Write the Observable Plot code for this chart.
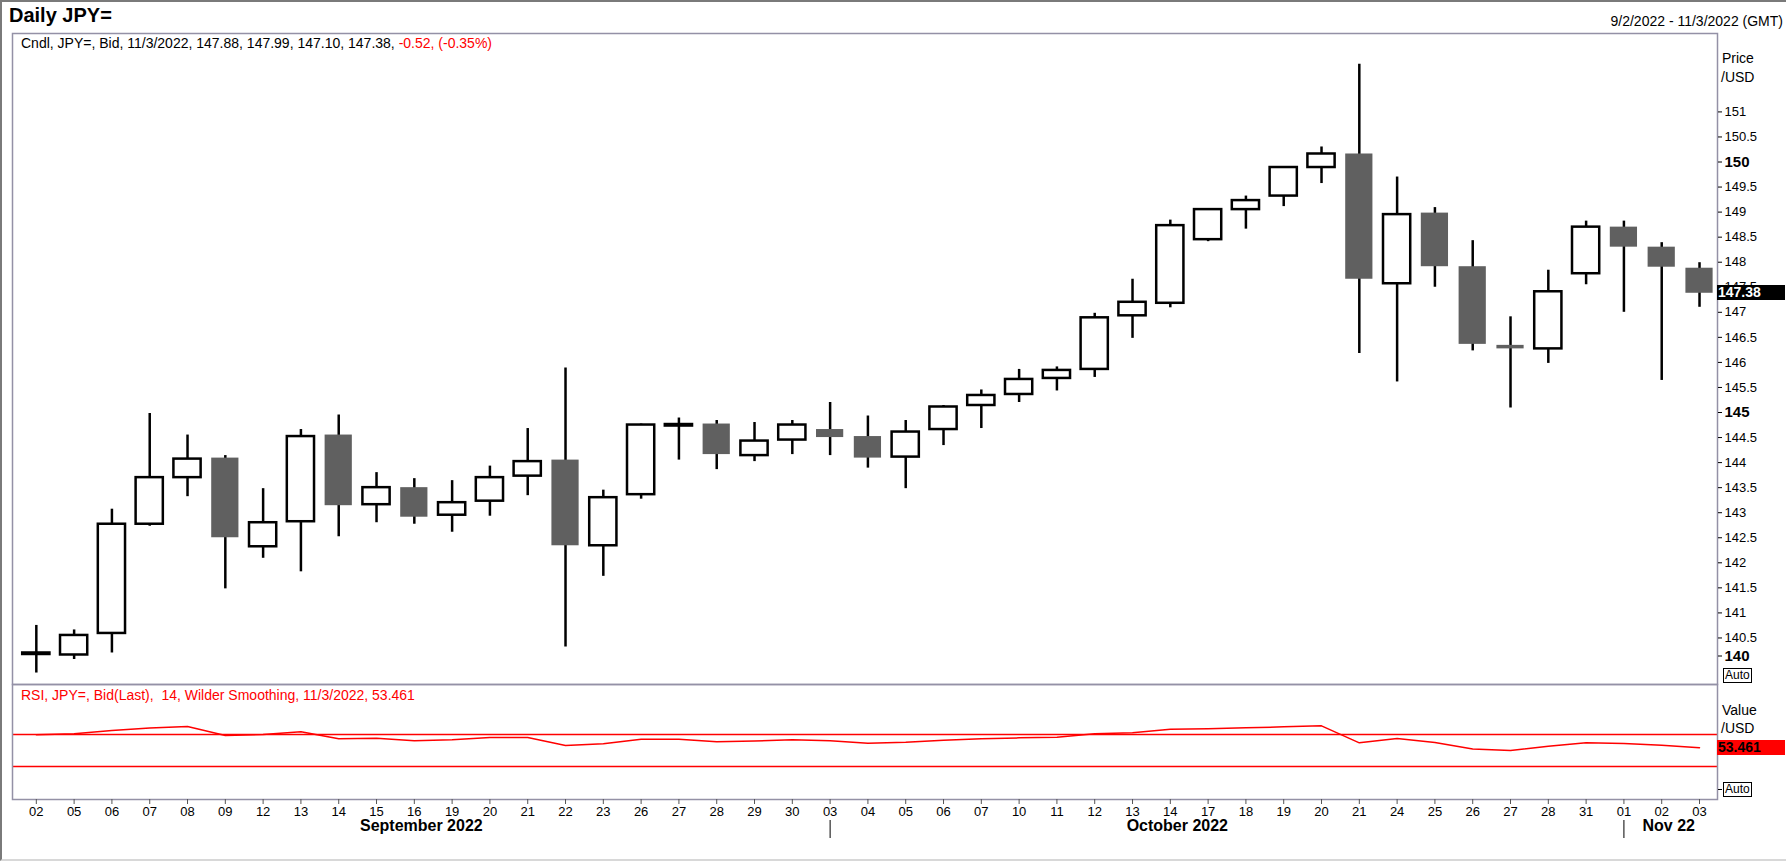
<!DOCTYPE html>
<html>
<head>
<meta charset="utf-8">
<script src="https://cdn.jsdelivr.net/npm/d3@7"></script>
<script src="https://cdn.jsdelivr.net/npm/@observablehq/plot@0.6"></script>
<style>
  html, body { margin: 0; padding: 0; background: #fff; }
  body { width: 1788px; height: 862px; position: relative; overflow: hidden;
         font-family: "Liberation Sans", Arial, sans-serif; color: #000; }
  .abs { position: absolute; white-space: nowrap; }
  #border { position: absolute; left: 0; top: 0; width: 1786px; height: 861px;
            border-top: 2px solid #7a7a7a; border-left: 2px solid #7a7a7a;
            border-bottom: 2px solid #d8d8d8; box-sizing: border-box; pointer-events: none; }
  svg { position: absolute; left: 0; }
  .auto { position: absolute; font-size: 12px; line-height: 13px; border: 1px solid #000;
          padding: 0 1px; background: #fff; }
</style>
</head>
<body>
<div id="border"></div>
<div id="root"></div>
<script>
// ---------------- data ----------------
const dates = ["2022-09-02","2022-09-05","2022-09-06","2022-09-07","2022-09-08","2022-09-09","2022-09-12","2022-09-13","2022-09-14","2022-09-15","2022-09-16","2022-09-19","2022-09-20","2022-09-21","2022-09-22","2022-09-23","2022-09-26","2022-09-27","2022-09-28","2022-09-29","2022-09-30","2022-10-03","2022-10-04","2022-10-05","2022-10-06","2022-10-07","2022-10-10","2022-10-11","2022-10-12","2022-10-13","2022-10-14","2022-10-17","2022-10-18","2022-10-19","2022-10-20","2022-10-21","2022-10-24","2022-10-25","2022-10-26","2022-10-27","2022-10-28","2022-10-31","2022-11-01","2022-11-02","2022-11-03"];
const open  = [140.17,140.16,140.59,142.77,143.70,144.09,142.32,142.82,144.55,143.16,143.50,142.95,143.23,143.73,144.05,142.34,143.36,144.73,144.77,144.14,144.45,144.66,144.52,144.11,144.66,145.14,145.36,145.68,145.86,146.93,147.18,148.45,149.05,149.32,149.89,150.16,147.57,148.98,147.91,146.34,146.27,147.77,148.70,148.30,147.88];
const high  = [140.75,140.66,143.07,144.98,144.55,144.14,143.48,144.66,144.95,143.80,143.68,143.64,143.93,144.68,145.89,143.45,144.77,144.89,144.84,144.80,144.84,145.20,144.93,144.84,145.14,145.45,145.86,145.91,146.98,147.66,148.84,149.07,149.32,149.91,150.30,151.95,149.70,149.09,148.43,146.91,147.84,148.82,148.82,148.39,147.99];
const low   = [139.80,140.07,140.20,142.73,143.32,141.48,142.09,141.82,142.52,142.80,142.77,142.61,142.93,143.34,140.32,141.73,143.27,144.05,143.86,144.02,144.16,144.14,143.89,143.48,144.34,144.68,145.20,145.43,145.70,146.48,147.09,148.41,148.66,149.11,149.57,146.18,145.61,147.50,146.23,145.09,145.98,147.55,147.00,145.64,147.10];
const close = [140.20,140.55,142.77,143.70,144.07,142.50,142.80,144.52,143.14,143.50,142.91,143.20,143.70,144.02,142.34,143.30,144.75,144.76,144.16,144.43,144.75,144.50,144.09,144.61,145.11,145.34,145.66,145.84,146.89,147.20,148.73,149.05,149.23,149.89,150.16,147.66,148.95,147.91,146.36,146.27,147.41,148.70,148.30,147.90,147.38];
const rsi   = [69.8,70.8,75.0,78.0,80.0,68.8,70.0,73.3,64.6,65.2,62.1,63.3,66.2,66.2,56.3,58.3,64.2,64.2,60.8,61.9,63.3,62.1,59.2,60.4,62.9,64.6,65.8,66.7,70.8,72.1,76.7,77.1,78.3,79.6,80.8,59.6,65.0,60.0,52.0,50.0,55.2,59.6,58.8,56.7,53.461];
const rsiLevels = [70, 30];
const priceTicksMinor = [140.5,141,141.5,142,142.5,143,143.5,144,144.5,145.5,146,146.5,147,147.5,148,148.5,149,149.5,150.5,151];
const priceTicksMajor = [145, 150];
const priceTicksBottom = [140];
const monthLabels = ["September 2022", "October 2022", "Nov 22"];
const monthLabelAt = ["2022-09-16", "2022-10-14", "2022-11-02"];
const monthStarts = ["2022-10-03", "2022-11-01"];
const titleText = "Daily JPY=";
const rangeText = "9/2/2022 - 11/3/2022 (GMT)";
const headerBlack = "Cndl, JPY=, Bid, 11/3/2022, 147.88, 147.99, 147.10, 147.38, ";
const headerRed = "-0.52, (-0.35%)";
const rsiHeader = "RSI, JPY=, Bid(Last),&nbsp; 14, Wilder Smoothing, 11/3/2022, 53.461";

// ---------------- derived tables ----------------
const candles = dates.map((d, i) => ({date: d, open: open[i], high: high[i], low: low[i], close: close[i]}));
const up = candles.filter(d => d.close >= d.open);
const down = candles.filter(d => d.close < d.open);
const rsiData = dates.map((d, i) => ({date: d, value: rsi[i]}));
const months = monthLabels.map((m, i) => ({label: m, at: monthLabelAt[i]}));
const last = candles[candles.length - 1];
const lastRsi = rsiData[rsiData.length - 1];

const FONT = '"Liberation Sans", Arial, sans-serif';
const W = 1788;
const xScale = {type: "band", domain: dates, paddingInner: 0.28, paddingOuter: 0.193, align: 0.7};
const frameColor = "#9491a6";
const RED = "#ff0000";

const root = document.getElementById("root");

// ---------------- price panel ----------------
const price = Plot.plot({
  width: W, height: 684,
  marginTop: 33, marginBottom: 0, marginLeft: 12, marginRight: 71,
  style: {fontFamily: FONT, fontSize: "13px", color: "#000", background: "transparent", overflow: "visible"},
  x: {...xScale, axis: null},
  y: {domain: [139.571, 152.565], axis: null},
  marks: [
    Plot.ruleX(candles, {x: "date", y1: "low", y2: "high", stroke: "#000", strokeWidth: 2.5}),
    Plot.barY(down, {x: "date", y1: "open", y2: "close", fill: "#606060"}),
    Plot.barY(up, {x: "date", y1: "open", y2: "close", fill: "#fff", stroke: "#000", strokeWidth: 2.5}),
    Plot.frame({stroke: frameColor, strokeWidth: 1.5}),
    Plot.axisY({anchor: "right", ticks: priceTicksMinor, tickSize: 4, tickPadding: 3, label: null,
                tickFormat: d => String(d), fontSize: 13, fill: "#000"}),
    Plot.axisY({anchor: "right", ticks: priceTicksMajor, tickSize: 4, tickPadding: 3, label: null,
                tickFormat: d => String(d), fontSize: 15, fontWeight: "bold"}),
    Plot.axisY({anchor: "right", ticks: priceTicksBottom, tickSize: 4, tickPadding: 3, label: null,
                tickFormat: d => String(d), fontSize: 15, fontWeight: "bold", dy: -7})
  ]
});
price.style.top = "0px";
root.appendChild(price);

// ---------------- RSI panel ----------------
const rsiPlot = Plot.plot({
  width: W, height: 178,
  marginTop: 0, marginBottom: 63, marginLeft: 12, marginRight: 71,
  style: {fontFamily: FONT, fontSize: "13px", color: "#000", background: "transparent", overflow: "visible"},
  x: {...xScale, axis: null},
  y: {domain: [-11.25, 132.5], axis: null},
  marks: [
    Plot.ruleY(rsiLevels, {stroke: RED, strokeWidth: 1.5}),
    Plot.line(rsiData, {x: "date", y: "value", stroke: RED, strokeWidth: 1.5}),
    Plot.frame({stroke: frameColor, strokeWidth: 1.5}),
    Plot.axisX({anchor: "bottom", tickSize: 5, tickPadding: 2, label: null,
                tickFormat: d => d.slice(8, 10), fontSize: 13, stroke: "#555"}),
    Plot.text(months, {x: "at", text: "label", frameAnchor: "bottom", dy: 31, dx: 7,
                       fontSize: 16, fontWeight: "bold", fill: "#000"}),
    Plot.ruleX(monthStarts, {x: d => d, insetTop: 136, insetBottom: -39, stroke: "#000", strokeWidth: 1})
  ]
});
rsiPlot.style.top = "684px";
root.appendChild(rsiPlot);

// ---------------- html text / labels ----------------
function addDiv(html, css) {
  const el = document.createElement("div");
  el.className = "abs";
  el.innerHTML = html;
  Object.assign(el.style, css);
  document.body.appendChild(el);
  return el;
}
addDiv(titleText, {left: "9px", top: "4px", fontSize: "20px", fontWeight: "bold", lineHeight: "23px"});
addDiv(rangeText, {right: "5px", top: "13px", fontSize: "14px", lineHeight: "17px"});
addDiv(headerBlack + '<span style="color:' + RED + '">' + headerRed + '</span>',
       {left: "21px", top: "35px", fontSize: "14px", lineHeight: "17px"});
addDiv("Price", {left: "1722px", top: "50px", fontSize: "14px", lineHeight: "16px"});
addDiv("/USD", {left: "1721px", top: "69px", fontSize: "14px", lineHeight: "16px"});
addDiv(rsiHeader, {left: "21px", top: "687px", fontSize: "14px", lineHeight: "17px", color: RED});
addDiv("Value", {left: "1722px", top: "702px", fontSize: "14px", lineHeight: "16px"});
addDiv("/USD", {left: "1721px", top: "720px", fontSize: "14px", lineHeight: "16px"});

// last price box, placed with the price y scale
const yP = price.scale("y").apply(last.close);
addDiv(last.close.toFixed(2), {left: "1717px", width: "68px", top: (yP - 7.5) + "px", height: "15px",
  lineHeight: "15px", fontSize: "14px", fontWeight: "bold", color: "#fff", background: "#000", paddingLeft: "1px", boxSizing: "border-box"});

// last RSI box, placed with the RSI y scale
const yR = rsiPlot.scale("y").apply(lastRsi.value) + 684;
addDiv(String(lastRsi.value), {left: "1717px", width: "68px", top: (yR - 7.5) + "px", height: "15px",
  lineHeight: "15px", fontSize: "14px", fontWeight: "bold", color: "#000", background: RED, paddingLeft: "1px", boxSizing: "border-box"});

// Auto buttons
const a1 = document.createElement("div"); a1.className = "auto"; a1.textContent = "Auto";
Object.assign(a1.style, {left: "1723px", top: "668px"}); document.body.appendChild(a1);
const a2 = document.createElement("div"); a2.className = "auto"; a2.textContent = "Auto";
Object.assign(a2.style, {left: "1723px", top: "782px"}); document.body.appendChild(a2);
addDiv("", {left: "1718px", top: "789px", width: "4px", height: "1px", background: "#000"});
</script>
</body>
</html>
